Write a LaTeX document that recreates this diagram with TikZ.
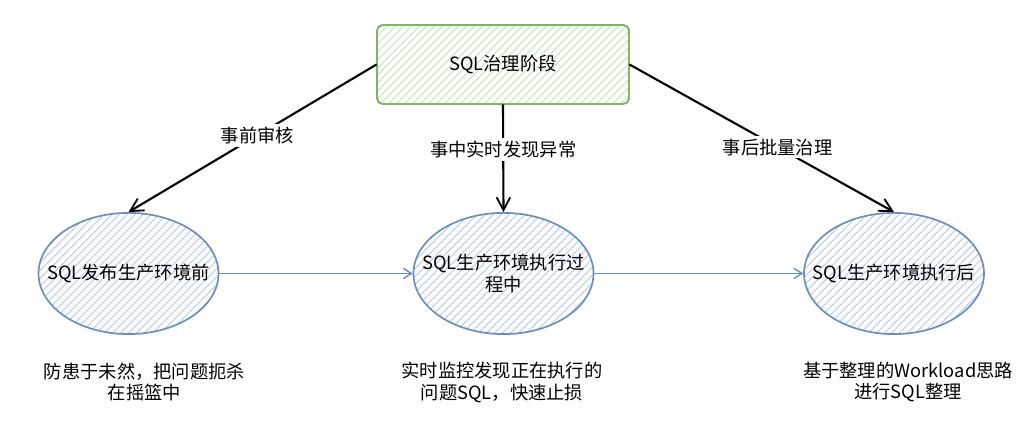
\documentclass[tikz,border=0pt]{standalone}
\usepackage{fontspec}
\setmainfont{Liberation Sans}
\newfontfamily\cjk{Noto Sans CJK SC}
\usetikzlibrary{arrows.meta,patterns.meta,shapes.geometric}
\definecolor{stagegreen}{HTML}{82B366}
\definecolor{hatchgreen}{HTML}{B9E0A5}
\definecolor{stageblue}{HTML}{6C8EBF}
\definecolor{hatchblue}{HTML}{A9C4EB}
\tikzset{
  every node/.style={font=\cjk\fontsize{13}{15.6}\selectfont},
  stagebox/.style={draw=stagegreen,line width=1.4pt,rounded corners=4pt,minimum width=6.3cm,minimum height=1.975cm,
    pattern={Lines[angle=45,distance=4pt,line width=0.7pt]},pattern color=hatchgreen},
  phase/.style={ellipse,draw=stageblue,line width=1.2pt,minimum width=4.5cm,minimum height=3.03cm,align=center,
    inner xsep=-20pt,inner ysep=0pt,
    pattern={Lines[angle=45,distance=4pt,line width=0.7pt]},pattern color=hatchblue},
  route/.style={draw=black,line width=1.5pt,-{Straight Barb[length=3.2mm,width=3.4mm,line width=1.3pt]}},
  flow/.style={draw=stageblue,line width=1pt,-{Straight Barb[length=2mm,width=2.6mm]}},
  tag/.style={fill=white,inner sep=2pt},
  note/.style={align=center}
}
\begin{document}
\begin{tikzpicture}
\useasboundingbox (0,0) rectangle (25.85,10.75);
\node[stagebox] (gov) at (12.575,9.1375) {SQL治理阶段};
\node[phase] (pre) at (3.2125,3.9125) {SQL发布生产环境前};
\node[phase] (run) at (12.5875,3.9125) {SQL生产环境执行过\\程中};
\node[phase] (post) at (22.35,3.9125) {SQL生产环境执行后};
\draw[route] (gov.west) -- node[tag,pos=0.48] (t1) {事前审核} (pre.north);
\draw[route] (gov.south) -- node[tag,pos=0.42] (t2) {事中实时发现异常} (run.north);
\draw[route] (gov.east) -- node[tag,pos=0.56] (t3) {事后批量治理} (post.north);
\draw[flow] (pre.east) -- (run.west);
\draw[flow] (run.east) -- (post.west);
\node[note] (n1) at (3.6125,1.2) {防患于未然，把问题扼杀\\在摇篮中};
\node[note] (n2) at (12.55,1.2) {实时监控发现正在执行的\\问题SQL，快速止损};
\node[note] (n3) at (22.7,1.2) {基于整理的Workload思路\\进行SQL整理};
\end{tikzpicture}
\end{document}
